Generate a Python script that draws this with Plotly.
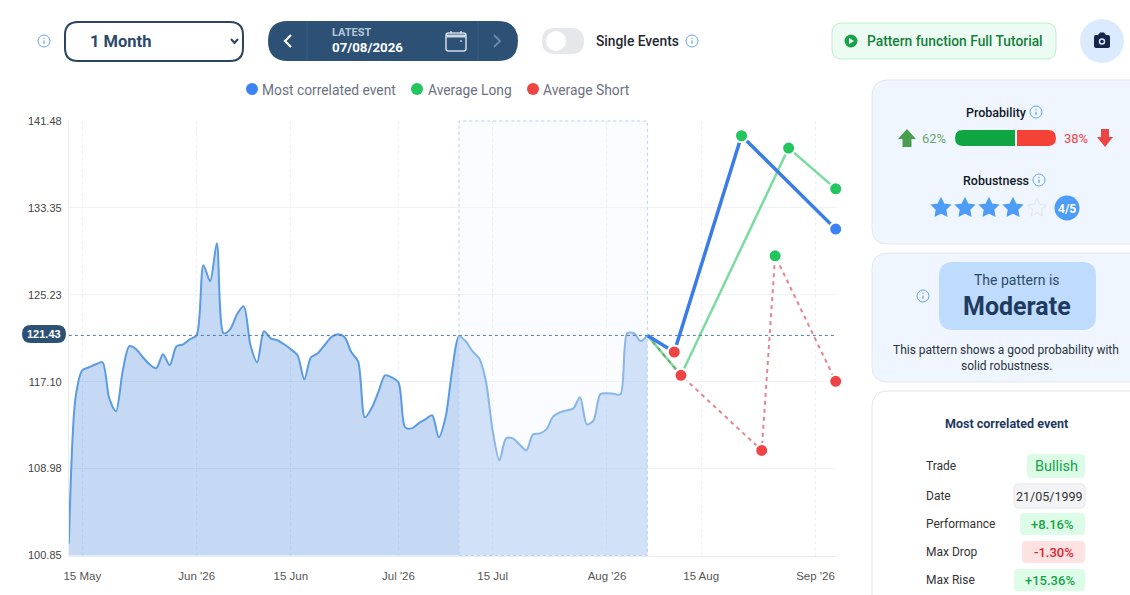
import math
import re
import pandas as pd
import plotly.graph_objects as go

# history, one value per day
start_date = "2026-05-13"
history_values = [
    101.97, 115.64, 118.17, 118.45, 118.73, 118.92, 115.55, 114.33, 118.07, 120.42,
    120.14, 119.39, 118.73, 118.36, 119.67, 118.64, 120.42, 120.60, 121.07, 121.45,
    128.00, 126.50, 130.06, 121.63, 122.01, 123.41, 124.16, 120.51, 118.92, 121.82,
    121.16, 120.98, 120.60, 120.14, 119.57, 117.33, 119.39, 119.76, 120.51, 121.26,
    121.54, 121.26, 119.85, 119.01, 113.77, 114.61, 116.11, 117.70, 117.51, 117.05,
    112.83, 112.74, 113.21, 113.58, 113.96, 111.90, 113.77, 118.26, 121.35, 120.88,
    119.95, 119.29, 117.14, 112.55, 109.74, 111.80, 111.80, 111.24, 110.68, 112.18,
    112.27, 112.65, 113.86, 114.24, 114.42, 114.61, 115.64, 113.11, 113.49, 115.92,
    116.02, 115.97, 115.92, 121.63, 121.63, 120.88, 121.43,
]
latest_date = "2026-08-07"
latest_value = 121.43
pattern_start = "2026-07-10"

corr_dates = ["2026-08-07", "2026-08-11", "2026-08-21", "2026-09-04"]
corr_values = [121.43, 119.88, 140.10, 131.37]
corr_dots = ["#ef4444", "#ef4444", "#22c55e", "#3b82f6"]

long_dates = ["2026-08-07", "2026-08-12", "2026-08-28", "2026-09-04"]
long_values = [121.43, 117.70, 138.95, 135.14]
long_dots = ["#22c55e", "#ef4444", "#22c55e", "#22c55e"]

short_dates = ["2026-08-07", "2026-08-12", "2026-08-24", "2026-08-26", "2026-09-04"]
short_values = [121.43, 117.70, 110.68, 128.87, 117.14]
short_dots = ["#ef4444", "#ef4444", "#ef4444", "#22c55e", "#ef4444"]

y_ticks = [100.85, 108.98, 117.10, 125.23, 133.35, 141.48]
x_tick_dates = ["2026-05-15", "2026-06-01", "2026-06-15", "2026-07-01", "2026-07-15",
                "2026-08-01", "2026-08-15", "2026-09-01"]
x_tick_labels = ["15 May", "Jun '26", "15 Jun", "Jul '26", "15 Jul", "Aug '26", "15 Aug", "Sep '26"]

legend_names = ["Most correlated event", "Average Long", "Average Short"]
stats_labels = ["Trade", "Date", "Performance", "Max Drop", "Max Rise"]
stats_values = ["Bullish", "21/05/1999", "+8.16%", "-1.30%", "+15.36%"]

W, H = 1130, 595
NAVY = "#2d5175"
INK = "#1e3a5f"
UI_FONT = "Roboto"

shapes = []
notes = []


def px(x):
    return x / W


def py(y):
    return 1 - y / H


def add_path(path, fill="rgba(0,0,0,0)", line=None, lw=1):
    """path is written in screen pixels, then moved to paper coordinates"""
    def conv(m):
        return f"{px(float(m.group(1))):.5f},{py(float(m.group(2))):.5f}"
    path = re.sub(r"(-?[\d.]+),(-?[\d.]+)", conv, path)
    shapes.append(dict(type="path", xref="paper", yref="paper", path=path, fillcolor=fill,
                       line=dict(color=line or "rgba(0,0,0,0)", width=lw if line else 0), layer="above"))


def rrect(x0, y0, x1, y1, r, fill="rgba(0,0,0,0)", line=None, lw=1):
    path = (f"M{x0+r},{y0} L{x1-r},{y0} Q{x1},{y0} {x1},{y0+r} L{x1},{y1-r} Q{x1},{y1} {x1-r},{y1} "
            f"L{x0+r},{y1} Q{x0},{y1} {x0},{y1-r} L{x0},{y0+r} Q{x0},{y0} {x0+r},{y0} Z")
    add_path(path, fill, line, lw)


def circle(cx, cy, r, fill="rgba(0,0,0,0)", line=None, lw=1):
    shapes.append(dict(type="circle", xref="paper", yref="paper", x0=px(cx-r), x1=px(cx+r), y0=py(cy-r), y1=py(cy+r),
                       fillcolor=fill, line=dict(color=line or "rgba(0,0,0,0)", width=lw if line else 0),
                       layer="above"))


def star(cx, cy, r, fill="rgba(0,0,0,0)", line=None, lw=1):
    pts = []
    for k in range(10):
        rad = r if k % 2 == 0 else r * 0.5
        ang = -math.pi / 2 + k * math.pi / 5
        pts.append(f"{cx + rad*math.cos(ang):.2f},{cy + rad*math.sin(ang):.2f}")
    add_path("M" + " L".join(pts) + " Z", fill, line, lw)


def text(x, y, s, size=13, color="#333333", anchor="left", weight=400, family=UI_FONT):
    notes.append(dict(xref="paper", yref="paper", x=px(x), y=py(y), text=s, showarrow=False, xanchor=anchor,
                      yanchor="middle", font=dict(family=family, size=size, color=color, weight=weight),
                      borderpad=0, borderwidth=0))


def info_icon(x, y):
    circle(x, y, 6, line="#6aa5e3", lw=1)
    add_path(f"M{x},{y-0.5} L{x},{y+3}", line="#6aa5e3", lw=1.2)
    circle(x, y-2.6, 0.7, fill="#6aa5e3")


# top toolbar
info_icon(44, 41)
rrect(65, 22, 243, 61, 13, fill="#ffffff", line="#2a4560", lw=2)
text(90, 41.5, "1 Month", size=16.5, color="#2c4a6a", weight=700)
add_path("M231,39 L234.5,43 L238,39", line="#2a4560", lw=2)

rrect(268, 21, 518, 61, 20, fill=NAVY)
add_path("M307,21 L307,61", line="#3a5f84", lw=1)
add_path("M478,21 L478,61", line="#3a5f84", lw=1)
add_path("M291,35 L285,41 L291,47", line="#ffffff", lw=2.2)
add_path("M494,35 L500,41 L494,47", line="#6f8aa6", lw=1.8)
text(332, 32, "LATEST", size=11, color="#b4c6d8", weight=700)
text(332, 47.5, "07/08/2026", size=13.3, color="#ffffff", weight=700)
rrect(446, 33, 466, 51, 2.5, line="#cdd9e5", lw=1.5)
add_path("M446,36 L466,36", line="#cdd9e5", lw=3)
add_path("M451,31 L451,34", line="#cdd9e5", lw=1.5)
add_path("M461,31 L461,34", line="#cdd9e5", lw=1.5)
circle(461, 41, 0.9, fill="#cdd9e5")

rrect(542, 28, 584, 54, 13, fill="#e5e7eb")
circle(556, 41, 10, fill="#ffffff")
text(596, 41.5, "Single Events", size=13.8, color="#1f2933", weight=500)
info_icon(692, 41)

rrect(832, 23, 1056, 59, 10, fill="#edfcf2", line="#bbf0cf", lw=1)
circle(851, 41, 6.5, fill="#16a34a")
add_path("M849,38 L854,41 L849,44 Z", fill="#ffffff")
text(867, 41.5, "Pattern function Full Tutorial", size=13.8, color="#15803d", weight=500)

circle(1102, 41, 22, fill="#dbeafe")
rrect(1094, 35, 1110, 48, 2, fill="#16264a")
add_path("M1098,35 L1100,32.5 L1104,32.5 L1106,35 Z", fill="#16264a")
circle(1102, 41.5, 3.2, fill="#dbeafe")
circle(1102, 41.5, 1.8, fill="#16264a")

# legend row
for cx, tx, col, name in zip([252, 417, 533], [262, 428, 543], ["#3b82f6", "#22c55e", "#ef4444"], legend_names):
    circle(cx, 89, 6, fill=col)
    text(tx, 89.5, name, size=13.8, color="#6b7280")

# probability card
rrect(872, 80, 1150, 244, 16, fill="#eff6ff", line="#e2e8f0", lw=1)
text(996, 112, "Probability", size=12.5, color="#111827", anchor="center", weight=500)
info_icon(1036, 112)
add_path("M907,129 L916,139 L911.5,139 L911.5,147 L902.5,147 L902.5,139 L898,139 Z", fill="#4a9d4e")
text(934, 138.5, "62%", size=13, color="#6aa86a", anchor="center")
add_path("M963,130 L1015,130 L1015,146 L963,146 Q955,146 955,138 Q955,130 963,130 Z", fill="#0ea542")
add_path("M1017,130 L1048,130 Q1056,130 1056,138 Q1056,146 1048,146 L1017,146 Z", fill="#f44336")
text(1076, 138.5, "38%", size=13, color="#ef4444", anchor="center")
add_path("M1105,147 L1113,137 L1109,137 L1109,129 L1101,129 L1101,137 L1097,137 Z", fill="#ef4444")
text(996, 180, "Robustness", size=12.5, color="#111827", anchor="center", weight=500)
info_icon(1039, 180)
for cx in [941, 965, 989, 1013]:
    star(cx, 208, 9.5, fill="#4d9cf8", line="#4d9cf8", lw=1.5)
star(1037, 208, 9.5, line="#e3e8ef", lw=1.2)
circle(1067, 208, 12.5, fill="#4d9cf8")
text(1067, 208.5, "4/5", size=12, color="#ffffff", anchor="center", weight=700)

# pattern card
rrect(872, 253, 1150, 382, 16, fill="#eff6ff", line="#e2e8f0", lw=1)
rrect(939, 262, 1096, 330, 14, fill="#bfdbfe")
info_icon(923, 296)
text(1017, 280, "The pattern is", size=14, color="#2c4a6a", anchor="center")
text(1017, 306.5, "Moderate", size=25, color=INK, anchor="center", weight=700)
text(1006, 350, "This pattern shows a good probability with", size=12, color="#2b3440", anchor="center")
text(1006, 366, "solid robustness.", size=12, color="#2b3440", anchor="center")

# event card
rrect(872, 391, 1150, 640, 16, fill="#ffffff", line="#e5e7eb", lw=1)
text(1006, 423.5, "Most correlated event", size=12.5, color=INK, anchor="center", weight=700)
row_y = [466, 496, 524, 552, 580]
badge_left = [1027, 1014, 1020, 1022, 1014]
badge_half = [12, 12, 11, 11, 11]
badge_fill = ["#dcfce7", "#f3f4f6", "#dcfce7", "#fee2e2", "#dcfce7"]
badge_text = ["#16a34a", "#333333", "#16a34a", "#e11d2e", "#16a34a"]
badge_size = [14.5, 12.5, 13, 13, 13]
badge_weight = [400, 400, 500, 500, 500]
for i, (label, val) in enumerate(zip(stats_labels, stats_values)):
    text(926, row_y[i], label, size=12, color="#333333")
    rrect(badge_left[i], row_y[i]-badge_half[i], 1085, row_y[i]+badge_half[i], 4, fill=badge_fill[i],
          line="#e5e7eb" if i == 1 else None)
    text((badge_left[i]+1085)/2, row_y[i]+0.5, val, size=badge_size[i], color=badge_text[i], anchor="center",
         weight=badge_weight[i])

# current value pill
rrect(22, 325, 66, 343, 9, fill=NAVY)
text(44, 334, "121.43", size=11, color="#ffffff", anchor="center", weight=700, family="Liberation Sans")

fig = go.Figure()
dates = pd.date_range(start_date, periods=len(history_values), freq="D")
fig.add_trace(go.Scatter(x=dates, y=history_values, mode="lines", fill="tozeroy", fillcolor="rgba(80,140,225,0.33)",
                         line=dict(color="#5b9bdf", width=2, shape="spline", smoothing=0.8), hoverinfo="skip"))

fig.add_trace(go.Scatter(x=short_dates, y=short_values, mode="lines", hoverinfo="skip",
                         line=dict(color="rgba(224,90,105,0.75)", width=2, dash="4px,4px")))
fig.add_trace(go.Scatter(x=long_dates, y=long_values, mode="lines", hoverinfo="skip",
                         line=dict(color="rgba(34,197,94,0.6)", width=2.5)))
fig.add_trace(go.Scatter(x=corr_dates, y=corr_values, mode="lines", hoverinfo="skip",
                         line=dict(color="#3b7de8", width=3.5)))
for d, v, c in [(short_dates, short_values, short_dots), (long_dates, long_values, long_dots),
                (corr_dates, corr_values, corr_dots)]:
    fig.add_trace(go.Scatter(x=d[1:], y=v[1:], mode="markers", hoverinfo="skip", cliponaxis=False,
                             marker=dict(size=13, color=c[1:], line=dict(color="#ffffff", width=2))))

shapes.append(dict(type="rect", xref="x", yref="y domain", x0=pattern_start, x1=latest_date, y0=0, y1=1,
                   fillcolor="rgba(238,246,255,0.3)", layer="above",
                   line=dict(color="#b5d3f2", width=1, dash="dot")))
shapes.append(dict(type="line", xref="x domain", yref="y", x0=0, x1=1, y0=latest_value, y1=latest_value,
                   layer="above", line=dict(color="#4a7aa8", width=1, dash="dot")))

fig.update_layout(
    width=W,
    height=H,
    margin=dict(l=0, r=0, t=0, b=0, autoexpand=False),
    paper_bgcolor="white",
    plot_bgcolor="white",
    showlegend=False,
    shapes=shapes,
    annotations=notes,
    xaxis=dict(type="date", range=["2026-05-13", "2026-09-04"], domain=[68.85/W, 835.7/W], anchor="y",
               tickmode="array", tickvals=x_tick_dates, ticktext=x_tick_labels,
               showgrid=True, gridcolor="#eceff3", griddash="dot", gridwidth=1, zeroline=False,
               showline=True, linecolor="#e8ebef", ticks="", ticklabelstandoff=10,
               tickfont=dict(family="Liberation Sans", size=11.5, color="#555555")),
    yaxis=dict(range=[100.85, 141.48], domain=[1-555.5/H, 1-121/H], anchor="x",
               tickmode="array", tickvals=y_ticks, tickformat=".2f",
               showgrid=True, gridcolor="#f0f2f5", gridwidth=1, zeroline=False,
               showline=True, linecolor="#e8ebef", ticks="", ticklabelstandoff=4,
               tickfont=dict(family="Liberation Sans", size=11, color="#444444")),
)

fig.write_html("out.html", config=dict(displayModeBar=False),
               post_script="document.body.style.margin='0';document.documentElement.style.overflow='hidden';")
